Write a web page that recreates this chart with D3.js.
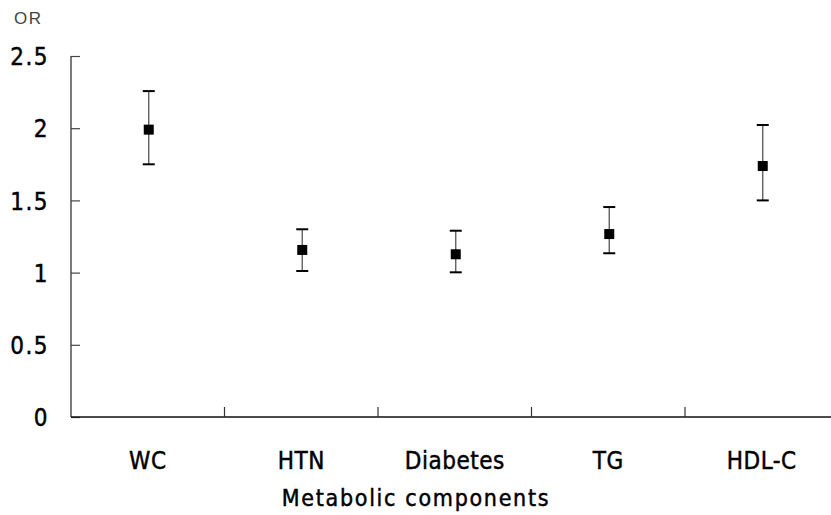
<!DOCTYPE html>
<html>
<head>
<meta charset="utf-8">
<script src="https://cdn.jsdelivr.net/npm/d3@7"></script>
<style>
  body { margin: 0; background: #fff; }
  text { font-family: "DejaVu Sans Condensed", "DejaVu Sans", sans-serif; font-stretch: condensed; }
  .heavy { stroke: #000; stroke-width: 0.45px; }
</style>
</head>
<body>
<div id="chart"></div>
<script>
const svgWidth = 831;
const svgHeight = 515;

// data
const components = ["WC", "HTN", "Diabetes", "TG", "HDL-C"];
const orValues = [1.99, 1.157, 1.127, 1.267, 1.738];
const lowerCI = [1.75, 1.011, 1.002, 1.134, 1.50];
const upperCI = [2.257, 1.30, 1.29, 1.454, 2.022];
const yTicks = [0, 0.5, 1, 1.5, 2, 2.5];

const x0 = 71, bandW = 153.5;
const yTop = 56, yBottom = 417;

const svg = d3.select("#chart")
  .append("svg")
  .attr("width", svgWidth)
  .attr("height", svgHeight);

const x = d3.scaleBand()
  .domain(components)
  .range([x0, x0 + bandW * components.length])
  .padding(0);

const y = d3.scaleLinear()
  .domain([0, 2.5])
  .range([yBottom, yTop]);

// y axis: ticks point into the plot
const yAxis = svg.append("g")
  .attr("transform", `translate(${x0},0)`)
  .call(d3.axisRight(y).tickValues(yTicks).tickSize(9).tickFormat(d => d));
yAxis.attr("font-family", null).attr("font-size", null);
yAxis.select(".domain").attr("stroke", "#222").attr("stroke-width", 1.2)
  .attr("d", `M0,${yTop}V${yBottom}`);
yAxis.selectAll(".tick line").attr("stroke", "#444").attr("stroke-width", 1.2);
yAxis.selectAll(".tick text")
  .attr("x", -22)
  .attr("dy", "0.36em")
  .attr("text-anchor", "end")
  .attr("fill", "#000")
  .classed("heavy", true)
  .style("font-size", "24px")
  .style("letter-spacing", "1.5px");

// x axis: ticks between categories, pointing up
const xAxisG = svg.append("g");
xAxisG.append("line")
  .attr("x1", x0).attr("x2", svgWidth)
  .attr("y1", yBottom).attr("y2", yBottom)
  .attr("stroke", "#111").attr("stroke-width", 1.5);
xAxisG.selectAll("line.tk")
  .data(components.slice(1))
  .enter()
  .append("line")
  .attr("class", "tk")
  .attr("x1", d => x(d)).attr("x2", d => x(d))
  .attr("y1", yBottom).attr("y2", yBottom - 10)
  .attr("stroke", "#333").attr("stroke-width", 1.2);
xAxisG.selectAll("text")
  .data(components)
  .enter()
  .append("text")
  .attr("class", "heavy")
  .attr("x", d => x(d) + x.bandwidth() / 2)
  .attr("y", 469)
  .attr("text-anchor", "middle")
  .style("font-size", "24px")
  .style("letter-spacing", "0.5px")
  .text(d => d);

svg.append("text")
  .attr("class", "heavy")
  .attr("x", 416)
  .attr("y", 506)
  .attr("text-anchor", "middle")
  .style("font-size", "23px")
  .style("letter-spacing", "1.7px")
  .text("Metabolic components");

svg.append("text")
  .attr("x", 14)
  .attr("y", 24)
  .attr("fill", "#444")
  .style("font-family", "'Liberation Sans', Arial, sans-serif")
  .style("font-stretch", "normal")
  .style("font-size", "17px")
  .style("letter-spacing", "1.5px")
  .text("OR");

// error bars
const pts = components.map((c, i) => ({ c, v: orValues[i], lo: lowerCI[i], hi: upperCI[i] }));
const cx = d => x(d.c) + x.bandwidth() / 2 + 1;
const marks = svg.append("g");
marks.selectAll("line.err")
  .data(pts).enter().append("line")
  .attr("x1", cx).attr("x2", cx)
  .attr("y1", d => y(d.lo)).attr("y2", d => y(d.hi))
  .attr("stroke", "#555").attr("stroke-width", 1.3);
["lo", "hi"].forEach(k => {
  marks.selectAll("line.cap" + k)
    .data(pts).enter().append("line")
    .attr("x1", d => cx(d) - 6).attr("x2", d => cx(d) + 6)
    .attr("y1", d => y(d[k])).attr("y2", d => y(d[k]))
    .attr("stroke", "#000").attr("stroke-width", 2);
});
marks.selectAll("rect")
  .data(pts).enter().append("rect")
  .attr("x", d => cx(d) - 5).attr("y", d => y(d.v) - 5)
  .attr("width", 10).attr("height", 10)
  .attr("fill", "#000");
</script>
</body>
</html>
